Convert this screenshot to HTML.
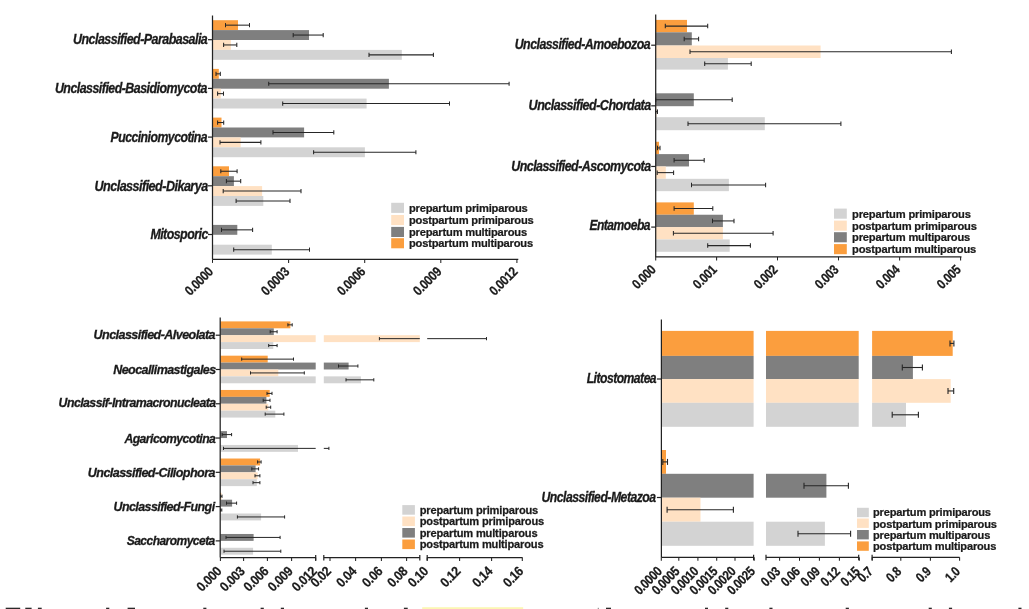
<!DOCTYPE html>
<html><head><meta charset="utf-8"><style>
html,body{margin:0;padding:0;background:#fff;width:1029px;height:609px;overflow:hidden}
svg{display:block;font-family:"Liberation Sans",sans-serif;will-change:transform}
</style></head><body>
<svg width="1029" height="609" viewBox="0 0 1029 609">
<rect x="212.50" y="20.20" width="25.50" height="9.90" fill="#fb9e3e"/>
<rect x="212.50" y="30.10" width="96.50" height="9.90" fill="#7f7f7f"/>
<rect x="212.50" y="40.00" width="18.40" height="9.90" fill="#ffe1c3"/>
<rect x="212.50" y="49.90" width="189.30" height="9.90" fill="#d3d3d3"/>
<line x1="225.50" y1="25.15" x2="249.50" y2="25.15" stroke="#262626" stroke-width="1.05"/>
<line x1="225.50" y1="23.05" x2="225.50" y2="27.25" stroke="#262626" stroke-width="1.05"/>
<line x1="249.50" y1="23.05" x2="249.50" y2="27.25" stroke="#262626" stroke-width="1.05"/>
<line x1="293.20" y1="35.05" x2="323.20" y2="35.05" stroke="#262626" stroke-width="1.05"/>
<line x1="293.20" y1="32.95" x2="293.20" y2="37.15" stroke="#262626" stroke-width="1.05"/>
<line x1="323.20" y1="32.95" x2="323.20" y2="37.15" stroke="#262626" stroke-width="1.05"/>
<line x1="223.60" y1="44.95" x2="236.80" y2="44.95" stroke="#262626" stroke-width="1.05"/>
<line x1="223.60" y1="42.85" x2="223.60" y2="47.05" stroke="#262626" stroke-width="1.05"/>
<line x1="236.80" y1="42.85" x2="236.80" y2="47.05" stroke="#262626" stroke-width="1.05"/>
<line x1="369.00" y1="54.85" x2="433.40" y2="54.85" stroke="#262626" stroke-width="1.05"/>
<line x1="369.00" y1="52.75" x2="369.00" y2="56.95" stroke="#262626" stroke-width="1.05"/>
<line x1="433.40" y1="52.75" x2="433.40" y2="56.95" stroke="#262626" stroke-width="1.05"/>
<line x1="208.00" y1="39.70" x2="212.50" y2="39.70" stroke="#222222" stroke-width="1.2"/>
<rect x="212.50" y="68.90" width="6.30" height="9.90" fill="#fb9e3e"/>
<rect x="212.50" y="78.80" width="176.40" height="9.90" fill="#7f7f7f"/>
<rect x="212.50" y="88.70" width="8.30" height="9.90" fill="#ffe1c3"/>
<rect x="212.50" y="98.60" width="154.10" height="9.90" fill="#d3d3d3"/>
<line x1="216.00" y1="73.85" x2="220.30" y2="73.85" stroke="#262626" stroke-width="1.05"/>
<line x1="216.00" y1="71.75" x2="216.00" y2="75.95" stroke="#262626" stroke-width="1.05"/>
<line x1="220.30" y1="71.75" x2="220.30" y2="75.95" stroke="#262626" stroke-width="1.05"/>
<line x1="268.70" y1="83.75" x2="509.10" y2="83.75" stroke="#262626" stroke-width="1.05"/>
<line x1="268.70" y1="81.65" x2="268.70" y2="85.85" stroke="#262626" stroke-width="1.05"/>
<line x1="509.10" y1="81.65" x2="509.10" y2="85.85" stroke="#262626" stroke-width="1.05"/>
<line x1="217.60" y1="93.65" x2="223.50" y2="93.65" stroke="#262626" stroke-width="1.05"/>
<line x1="217.60" y1="91.55" x2="217.60" y2="95.75" stroke="#262626" stroke-width="1.05"/>
<line x1="223.50" y1="91.55" x2="223.50" y2="95.75" stroke="#262626" stroke-width="1.05"/>
<line x1="282.70" y1="103.55" x2="449.50" y2="103.55" stroke="#262626" stroke-width="1.05"/>
<line x1="282.70" y1="101.45" x2="282.70" y2="105.65" stroke="#262626" stroke-width="1.05"/>
<line x1="449.50" y1="101.45" x2="449.50" y2="105.65" stroke="#262626" stroke-width="1.05"/>
<line x1="208.00" y1="88.40" x2="212.50" y2="88.40" stroke="#222222" stroke-width="1.2"/>
<rect x="212.50" y="117.60" width="9.00" height="9.90" fill="#fb9e3e"/>
<rect x="212.50" y="127.50" width="91.60" height="9.90" fill="#7f7f7f"/>
<rect x="212.50" y="137.40" width="28.20" height="9.90" fill="#ffe1c3"/>
<rect x="212.50" y="147.30" width="152.40" height="9.90" fill="#d3d3d3"/>
<line x1="217.60" y1="122.55" x2="223.70" y2="122.55" stroke="#262626" stroke-width="1.05"/>
<line x1="217.60" y1="120.45" x2="217.60" y2="124.65" stroke="#262626" stroke-width="1.05"/>
<line x1="223.70" y1="120.45" x2="223.70" y2="124.65" stroke="#262626" stroke-width="1.05"/>
<line x1="273.00" y1="132.45" x2="333.80" y2="132.45" stroke="#262626" stroke-width="1.05"/>
<line x1="273.00" y1="130.35" x2="273.00" y2="134.55" stroke="#262626" stroke-width="1.05"/>
<line x1="333.80" y1="130.35" x2="333.80" y2="134.55" stroke="#262626" stroke-width="1.05"/>
<line x1="220.00" y1="142.35" x2="260.90" y2="142.35" stroke="#262626" stroke-width="1.05"/>
<line x1="220.00" y1="140.25" x2="220.00" y2="144.45" stroke="#262626" stroke-width="1.05"/>
<line x1="260.90" y1="140.25" x2="260.90" y2="144.45" stroke="#262626" stroke-width="1.05"/>
<line x1="313.60" y1="152.25" x2="415.90" y2="152.25" stroke="#262626" stroke-width="1.05"/>
<line x1="313.60" y1="150.15" x2="313.60" y2="154.35" stroke="#262626" stroke-width="1.05"/>
<line x1="415.90" y1="150.15" x2="415.90" y2="154.35" stroke="#262626" stroke-width="1.05"/>
<line x1="208.00" y1="137.10" x2="212.50" y2="137.10" stroke="#222222" stroke-width="1.2"/>
<rect x="212.50" y="166.30" width="16.50" height="9.90" fill="#fb9e3e"/>
<rect x="212.50" y="176.20" width="21.40" height="9.90" fill="#7f7f7f"/>
<rect x="212.50" y="186.10" width="49.60" height="9.90" fill="#ffe1c3"/>
<rect x="212.50" y="196.00" width="50.80" height="9.90" fill="#d3d3d3"/>
<line x1="220.80" y1="171.25" x2="237.10" y2="171.25" stroke="#262626" stroke-width="1.05"/>
<line x1="220.80" y1="169.15" x2="220.80" y2="173.35" stroke="#262626" stroke-width="1.05"/>
<line x1="237.10" y1="169.15" x2="237.10" y2="173.35" stroke="#262626" stroke-width="1.05"/>
<line x1="226.40" y1="181.15" x2="240.70" y2="181.15" stroke="#262626" stroke-width="1.05"/>
<line x1="226.40" y1="179.05" x2="226.40" y2="183.25" stroke="#262626" stroke-width="1.05"/>
<line x1="240.70" y1="179.05" x2="240.70" y2="183.25" stroke="#262626" stroke-width="1.05"/>
<line x1="223.20" y1="191.05" x2="301.00" y2="191.05" stroke="#262626" stroke-width="1.05"/>
<line x1="223.20" y1="188.95" x2="223.20" y2="193.15" stroke="#262626" stroke-width="1.05"/>
<line x1="301.00" y1="188.95" x2="301.00" y2="193.15" stroke="#262626" stroke-width="1.05"/>
<line x1="236.10" y1="200.95" x2="290.00" y2="200.95" stroke="#262626" stroke-width="1.05"/>
<line x1="236.10" y1="198.85" x2="236.10" y2="203.05" stroke="#262626" stroke-width="1.05"/>
<line x1="290.00" y1="198.85" x2="290.00" y2="203.05" stroke="#262626" stroke-width="1.05"/>
<line x1="208.00" y1="185.80" x2="212.50" y2="185.80" stroke="#222222" stroke-width="1.2"/>
<rect x="212.50" y="224.90" width="24.80" height="9.90" fill="#7f7f7f"/>
<rect x="212.50" y="244.70" width="59.30" height="9.90" fill="#d3d3d3"/>
<line x1="221.50" y1="229.85" x2="252.60" y2="229.85" stroke="#262626" stroke-width="1.05"/>
<line x1="221.50" y1="227.75" x2="221.50" y2="231.95" stroke="#262626" stroke-width="1.05"/>
<line x1="252.60" y1="227.75" x2="252.60" y2="231.95" stroke="#262626" stroke-width="1.05"/>
<line x1="233.70" y1="249.65" x2="309.50" y2="249.65" stroke="#262626" stroke-width="1.05"/>
<line x1="233.70" y1="247.55" x2="233.70" y2="251.75" stroke="#262626" stroke-width="1.05"/>
<line x1="309.50" y1="247.55" x2="309.50" y2="251.75" stroke="#262626" stroke-width="1.05"/>
<line x1="208.00" y1="234.50" x2="212.50" y2="234.50" stroke="#222222" stroke-width="1.2"/>
<line x1="212.50" y1="15.50" x2="212.50" y2="259.40" stroke="#222222" stroke-width="1.25"/>
<line x1="212.50" y1="259.40" x2="518.30" y2="259.40" stroke="#222222" stroke-width="1.25"/>
<line x1="212.50" y1="259.40" x2="212.50" y2="262.90" stroke="#222222" stroke-width="1.05"/>
<line x1="288.60" y1="259.40" x2="288.60" y2="262.90" stroke="#222222" stroke-width="1.05"/>
<line x1="364.70" y1="259.40" x2="364.70" y2="262.90" stroke="#222222" stroke-width="1.05"/>
<line x1="440.80" y1="259.40" x2="440.80" y2="262.90" stroke="#222222" stroke-width="1.05"/>
<line x1="516.90" y1="259.40" x2="516.90" y2="262.90" stroke="#222222" stroke-width="1.05"/>
<rect x="391.20" y="202.80" width="12.80" height="10.10" fill="#d3d3d3"/>
<rect x="391.20" y="215.00" width="12.80" height="10.10" fill="#ffe1c3"/>
<rect x="391.20" y="226.90" width="12.80" height="10.10" fill="#7f7f7f"/>
<rect x="391.20" y="238.20" width="12.80" height="10.10" fill="#fb9e3e"/>
<rect x="655.70" y="19.90" width="31.30" height="12.40" fill="#fb9e3e"/>
<rect x="655.70" y="32.30" width="36.10" height="13.20" fill="#7f7f7f"/>
<rect x="655.70" y="45.50" width="164.90" height="12.50" fill="#ffe1c3"/>
<rect x="655.70" y="58.00" width="72.20" height="11.60" fill="#d3d3d3"/>
<line x1="665.30" y1="26.10" x2="707.70" y2="26.10" stroke="#262626" stroke-width="1.05"/>
<line x1="665.30" y1="23.85" x2="665.30" y2="28.35" stroke="#262626" stroke-width="1.05"/>
<line x1="707.70" y1="23.85" x2="707.70" y2="28.35" stroke="#262626" stroke-width="1.05"/>
<line x1="684.20" y1="38.90" x2="698.60" y2="38.90" stroke="#262626" stroke-width="1.05"/>
<line x1="684.20" y1="36.65" x2="684.20" y2="41.15" stroke="#262626" stroke-width="1.05"/>
<line x1="698.60" y1="36.65" x2="698.60" y2="41.15" stroke="#262626" stroke-width="1.05"/>
<line x1="690.00" y1="51.75" x2="951.40" y2="51.75" stroke="#262626" stroke-width="1.05"/>
<line x1="690.00" y1="49.50" x2="690.00" y2="54.00" stroke="#262626" stroke-width="1.05"/>
<line x1="951.40" y1="49.50" x2="951.40" y2="54.00" stroke="#262626" stroke-width="1.05"/>
<line x1="704.70" y1="63.80" x2="751.20" y2="63.80" stroke="#262626" stroke-width="1.05"/>
<line x1="704.70" y1="61.55" x2="704.70" y2="66.05" stroke="#262626" stroke-width="1.05"/>
<line x1="751.20" y1="61.55" x2="751.20" y2="66.05" stroke="#262626" stroke-width="1.05"/>
<line x1="651.20" y1="45.20" x2="655.70" y2="45.20" stroke="#222222" stroke-width="1.2"/>
<rect x="655.70" y="93.30" width="38.10" height="12.90" fill="#7f7f7f"/>
<rect x="655.70" y="106.20" width="0.80" height="11.00" fill="#ffe1c3"/>
<rect x="655.70" y="117.20" width="109.10" height="13.00" fill="#d3d3d3"/>
<line x1="655.70" y1="99.75" x2="732.20" y2="99.75" stroke="#262626" stroke-width="1.05"/>
<line x1="655.70" y1="97.50" x2="655.70" y2="102.00" stroke="#262626" stroke-width="1.05"/>
<line x1="732.20" y1="97.50" x2="732.20" y2="102.00" stroke="#262626" stroke-width="1.05"/>
<line x1="655.70" y1="111.70" x2="657.50" y2="111.70" stroke="#262626" stroke-width="1.05"/>
<line x1="655.70" y1="109.45" x2="655.70" y2="113.95" stroke="#262626" stroke-width="1.05"/>
<line x1="657.50" y1="109.45" x2="657.50" y2="113.95" stroke="#262626" stroke-width="1.05"/>
<line x1="688.00" y1="123.70" x2="840.90" y2="123.70" stroke="#262626" stroke-width="1.05"/>
<line x1="688.00" y1="121.45" x2="688.00" y2="125.95" stroke="#262626" stroke-width="1.05"/>
<line x1="840.90" y1="121.45" x2="840.90" y2="125.95" stroke="#262626" stroke-width="1.05"/>
<line x1="651.20" y1="105.83" x2="655.70" y2="105.83" stroke="#222222" stroke-width="1.2"/>
<rect x="655.70" y="141.76" width="3.30" height="12.35" fill="#fb9e3e"/>
<rect x="655.70" y="154.11" width="33.30" height="12.35" fill="#7f7f7f"/>
<rect x="655.70" y="166.46" width="10.10" height="12.35" fill="#ffe1c3"/>
<rect x="655.70" y="178.81" width="73.20" height="12.35" fill="#d3d3d3"/>
<line x1="657.50" y1="147.94" x2="660.00" y2="147.94" stroke="#262626" stroke-width="1.05"/>
<line x1="657.50" y1="145.69" x2="657.50" y2="150.19" stroke="#262626" stroke-width="1.05"/>
<line x1="660.00" y1="145.69" x2="660.00" y2="150.19" stroke="#262626" stroke-width="1.05"/>
<line x1="674.10" y1="160.28" x2="704.20" y2="160.28" stroke="#262626" stroke-width="1.05"/>
<line x1="674.10" y1="158.03" x2="674.10" y2="162.53" stroke="#262626" stroke-width="1.05"/>
<line x1="704.20" y1="158.03" x2="704.20" y2="162.53" stroke="#262626" stroke-width="1.05"/>
<line x1="657.20" y1="172.63" x2="673.60" y2="172.63" stroke="#262626" stroke-width="1.05"/>
<line x1="657.20" y1="170.38" x2="657.20" y2="174.88" stroke="#262626" stroke-width="1.05"/>
<line x1="673.60" y1="170.38" x2="673.60" y2="174.88" stroke="#262626" stroke-width="1.05"/>
<line x1="691.50" y1="184.99" x2="765.60" y2="184.99" stroke="#262626" stroke-width="1.05"/>
<line x1="691.50" y1="182.74" x2="691.50" y2="187.24" stroke="#262626" stroke-width="1.05"/>
<line x1="765.60" y1="182.74" x2="765.60" y2="187.24" stroke="#262626" stroke-width="1.05"/>
<line x1="651.20" y1="166.46" x2="655.70" y2="166.46" stroke="#222222" stroke-width="1.2"/>
<rect x="655.70" y="202.39" width="38.10" height="12.35" fill="#fb9e3e"/>
<rect x="655.70" y="214.74" width="67.20" height="12.35" fill="#7f7f7f"/>
<rect x="655.70" y="227.09" width="67.20" height="12.35" fill="#ffe1c3"/>
<rect x="655.70" y="239.44" width="74.00" height="12.35" fill="#d3d3d3"/>
<line x1="674.10" y1="208.56" x2="712.80" y2="208.56" stroke="#262626" stroke-width="1.05"/>
<line x1="674.10" y1="206.31" x2="674.10" y2="210.81" stroke="#262626" stroke-width="1.05"/>
<line x1="712.80" y1="206.31" x2="712.80" y2="210.81" stroke="#262626" stroke-width="1.05"/>
<line x1="712.50" y1="220.92" x2="734.00" y2="220.92" stroke="#262626" stroke-width="1.05"/>
<line x1="712.50" y1="218.67" x2="712.50" y2="223.17" stroke="#262626" stroke-width="1.05"/>
<line x1="734.00" y1="218.67" x2="734.00" y2="223.17" stroke="#262626" stroke-width="1.05"/>
<line x1="673.40" y1="233.26" x2="773.10" y2="233.26" stroke="#262626" stroke-width="1.05"/>
<line x1="673.40" y1="231.01" x2="673.40" y2="235.51" stroke="#262626" stroke-width="1.05"/>
<line x1="773.10" y1="231.01" x2="773.10" y2="235.51" stroke="#262626" stroke-width="1.05"/>
<line x1="707.70" y1="245.62" x2="750.40" y2="245.62" stroke="#262626" stroke-width="1.05"/>
<line x1="707.70" y1="243.37" x2="707.70" y2="247.87" stroke="#262626" stroke-width="1.05"/>
<line x1="750.40" y1="243.37" x2="750.40" y2="247.87" stroke="#262626" stroke-width="1.05"/>
<line x1="651.20" y1="227.09" x2="655.70" y2="227.09" stroke="#222222" stroke-width="1.2"/>
<line x1="655.70" y1="14.50" x2="655.70" y2="256.90" stroke="#222222" stroke-width="1.25"/>
<line x1="655.70" y1="256.90" x2="961.50" y2="256.90" stroke="#222222" stroke-width="1.25"/>
<line x1="655.70" y1="256.90" x2="655.70" y2="260.40" stroke="#222222" stroke-width="1.05"/>
<line x1="716.60" y1="256.90" x2="716.60" y2="260.40" stroke="#222222" stroke-width="1.05"/>
<line x1="777.50" y1="256.90" x2="777.50" y2="260.40" stroke="#222222" stroke-width="1.05"/>
<line x1="838.50" y1="256.90" x2="838.50" y2="260.40" stroke="#222222" stroke-width="1.05"/>
<line x1="899.60" y1="256.90" x2="899.60" y2="260.40" stroke="#222222" stroke-width="1.05"/>
<line x1="960.60" y1="256.90" x2="960.60" y2="260.40" stroke="#222222" stroke-width="1.05"/>
<rect x="834.00" y="208.60" width="12.80" height="10.10" fill="#d3d3d3"/>
<rect x="834.00" y="220.60" width="12.80" height="10.10" fill="#ffe1c3"/>
<rect x="834.00" y="232.20" width="12.80" height="10.10" fill="#7f7f7f"/>
<rect x="834.00" y="244.10" width="12.80" height="10.10" fill="#fb9e3e"/>
<rect x="220.20" y="321.40" width="70.20" height="6.90" fill="#fb9e3e"/>
<rect x="220.20" y="328.30" width="53.60" height="6.90" fill="#7f7f7f"/>
<rect x="220.20" y="335.20" width="95.50" height="6.90" fill="#ffe1c3"/>
<rect x="323.80" y="335.20" width="96.00" height="6.90" fill="#ffe1c3"/>
<rect x="220.20" y="342.10" width="53.10" height="6.90" fill="#d3d3d3"/>
<line x1="287.90" y1="324.85" x2="292.20" y2="324.85" stroke="#262626" stroke-width="1.0"/>
<line x1="287.90" y1="323.25" x2="287.90" y2="326.45" stroke="#262626" stroke-width="1.0"/>
<line x1="292.20" y1="323.25" x2="292.20" y2="326.45" stroke="#262626" stroke-width="1.0"/>
<line x1="270.20" y1="331.75" x2="277.10" y2="331.75" stroke="#262626" stroke-width="1.0"/>
<line x1="270.20" y1="330.15" x2="270.20" y2="333.35" stroke="#262626" stroke-width="1.0"/>
<line x1="277.10" y1="330.15" x2="277.10" y2="333.35" stroke="#262626" stroke-width="1.0"/>
<line x1="379.40" y1="338.65" x2="419.80" y2="338.65" stroke="#262626" stroke-width="1.0"/>
<line x1="427.20" y1="338.65" x2="486.50" y2="338.65" stroke="#262626" stroke-width="1.0"/>
<line x1="379.40" y1="337.05" x2="379.40" y2="340.25" stroke="#262626" stroke-width="1.0"/>
<line x1="486.50" y1="337.05" x2="486.50" y2="340.25" stroke="#262626" stroke-width="1.0"/>
<line x1="268.70" y1="345.55" x2="277.10" y2="345.55" stroke="#262626" stroke-width="1.0"/>
<line x1="268.70" y1="343.95" x2="268.70" y2="347.15" stroke="#262626" stroke-width="1.0"/>
<line x1="277.10" y1="343.95" x2="277.10" y2="347.15" stroke="#262626" stroke-width="1.0"/>
<line x1="215.70" y1="335.20" x2="220.20" y2="335.20" stroke="#222222" stroke-width="1.2"/>
<rect x="220.20" y="355.68" width="47.50" height="6.90" fill="#fb9e3e"/>
<rect x="220.20" y="362.58" width="95.50" height="6.90" fill="#7f7f7f"/>
<rect x="323.80" y="362.58" width="24.80" height="6.90" fill="#7f7f7f"/>
<rect x="220.20" y="369.48" width="58.10" height="6.90" fill="#ffe1c3"/>
<rect x="220.20" y="376.38" width="95.50" height="6.90" fill="#d3d3d3"/>
<rect x="323.80" y="376.38" width="37.10" height="6.90" fill="#d3d3d3"/>
<line x1="241.70" y1="359.13" x2="293.50" y2="359.13" stroke="#262626" stroke-width="1.0"/>
<line x1="241.70" y1="357.53" x2="241.70" y2="360.73" stroke="#262626" stroke-width="1.0"/>
<line x1="293.50" y1="357.53" x2="293.50" y2="360.73" stroke="#262626" stroke-width="1.0"/>
<line x1="338.50" y1="366.03" x2="357.90" y2="366.03" stroke="#262626" stroke-width="1.0"/>
<line x1="338.50" y1="364.43" x2="338.50" y2="367.63" stroke="#262626" stroke-width="1.0"/>
<line x1="357.90" y1="364.43" x2="357.90" y2="367.63" stroke="#262626" stroke-width="1.0"/>
<line x1="250.50" y1="372.93" x2="304.30" y2="372.93" stroke="#262626" stroke-width="1.0"/>
<line x1="250.50" y1="371.33" x2="250.50" y2="374.53" stroke="#262626" stroke-width="1.0"/>
<line x1="304.30" y1="371.33" x2="304.30" y2="374.53" stroke="#262626" stroke-width="1.0"/>
<line x1="346.00" y1="379.83" x2="373.80" y2="379.83" stroke="#262626" stroke-width="1.0"/>
<line x1="346.00" y1="378.23" x2="346.00" y2="381.43" stroke="#262626" stroke-width="1.0"/>
<line x1="373.80" y1="378.23" x2="373.80" y2="381.43" stroke="#262626" stroke-width="1.0"/>
<line x1="215.70" y1="369.48" x2="220.20" y2="369.48" stroke="#222222" stroke-width="1.2"/>
<rect x="220.20" y="389.96" width="49.50" height="6.90" fill="#fb9e3e"/>
<rect x="220.20" y="396.86" width="46.20" height="6.90" fill="#7f7f7f"/>
<rect x="220.20" y="403.76" width="48.00" height="6.90" fill="#ffe1c3"/>
<rect x="220.20" y="410.66" width="55.10" height="6.90" fill="#d3d3d3"/>
<line x1="267.00" y1="393.41" x2="272.00" y2="393.41" stroke="#262626" stroke-width="1.0"/>
<line x1="267.00" y1="391.81" x2="267.00" y2="395.01" stroke="#262626" stroke-width="1.0"/>
<line x1="272.00" y1="391.81" x2="272.00" y2="395.01" stroke="#262626" stroke-width="1.0"/>
<line x1="263.20" y1="400.31" x2="270.00" y2="400.31" stroke="#262626" stroke-width="1.0"/>
<line x1="263.20" y1="398.71" x2="263.20" y2="401.91" stroke="#262626" stroke-width="1.0"/>
<line x1="270.00" y1="398.71" x2="270.00" y2="401.91" stroke="#262626" stroke-width="1.0"/>
<line x1="266.20" y1="407.21" x2="270.70" y2="407.21" stroke="#262626" stroke-width="1.0"/>
<line x1="266.20" y1="405.61" x2="266.20" y2="408.81" stroke="#262626" stroke-width="1.0"/>
<line x1="270.70" y1="405.61" x2="270.70" y2="408.81" stroke="#262626" stroke-width="1.0"/>
<line x1="265.20" y1="414.11" x2="283.90" y2="414.11" stroke="#262626" stroke-width="1.0"/>
<line x1="265.20" y1="412.51" x2="265.20" y2="415.71" stroke="#262626" stroke-width="1.0"/>
<line x1="283.90" y1="412.51" x2="283.90" y2="415.71" stroke="#262626" stroke-width="1.0"/>
<line x1="215.70" y1="403.76" x2="220.20" y2="403.76" stroke="#222222" stroke-width="1.2"/>
<rect x="220.20" y="431.14" width="6.80" height="6.90" fill="#7f7f7f"/>
<rect x="220.20" y="444.94" width="77.80" height="6.90" fill="#d3d3d3"/>
<line x1="222.20" y1="434.59" x2="231.60" y2="434.59" stroke="#262626" stroke-width="1.0"/>
<line x1="222.20" y1="432.99" x2="222.20" y2="436.19" stroke="#262626" stroke-width="1.0"/>
<line x1="231.60" y1="432.99" x2="231.60" y2="436.19" stroke="#262626" stroke-width="1.0"/>
<line x1="223.50" y1="448.39" x2="315.70" y2="448.39" stroke="#262626" stroke-width="1.0"/>
<line x1="323.80" y1="448.39" x2="328.90" y2="448.39" stroke="#262626" stroke-width="1.0"/>
<line x1="223.50" y1="446.79" x2="223.50" y2="449.99" stroke="#262626" stroke-width="1.0"/>
<line x1="328.90" y1="446.79" x2="328.90" y2="449.99" stroke="#262626" stroke-width="1.0"/>
<line x1="215.70" y1="438.04" x2="220.20" y2="438.04" stroke="#222222" stroke-width="1.2"/>
<rect x="220.20" y="458.52" width="39.90" height="6.90" fill="#fb9e3e"/>
<rect x="220.20" y="465.42" width="35.40" height="6.90" fill="#7f7f7f"/>
<rect x="220.20" y="472.32" width="37.40" height="6.90" fill="#ffe1c3"/>
<rect x="220.20" y="479.22" width="36.60" height="6.90" fill="#d3d3d3"/>
<line x1="257.60" y1="461.97" x2="261.10" y2="461.97" stroke="#262626" stroke-width="1.0"/>
<line x1="257.60" y1="460.37" x2="257.60" y2="463.57" stroke="#262626" stroke-width="1.0"/>
<line x1="261.10" y1="460.37" x2="261.10" y2="463.57" stroke="#262626" stroke-width="1.0"/>
<line x1="251.80" y1="468.87" x2="258.60" y2="468.87" stroke="#262626" stroke-width="1.0"/>
<line x1="251.80" y1="467.27" x2="251.80" y2="470.47" stroke="#262626" stroke-width="1.0"/>
<line x1="258.60" y1="467.27" x2="258.60" y2="470.47" stroke="#262626" stroke-width="1.0"/>
<line x1="255.00" y1="475.77" x2="259.90" y2="475.77" stroke="#262626" stroke-width="1.0"/>
<line x1="255.00" y1="474.17" x2="255.00" y2="477.37" stroke="#262626" stroke-width="1.0"/>
<line x1="259.90" y1="474.17" x2="259.90" y2="477.37" stroke="#262626" stroke-width="1.0"/>
<line x1="253.00" y1="482.67" x2="259.90" y2="482.67" stroke="#262626" stroke-width="1.0"/>
<line x1="253.00" y1="481.07" x2="253.00" y2="484.27" stroke="#262626" stroke-width="1.0"/>
<line x1="259.90" y1="481.07" x2="259.90" y2="484.27" stroke="#262626" stroke-width="1.0"/>
<line x1="215.70" y1="472.32" x2="220.20" y2="472.32" stroke="#222222" stroke-width="1.2"/>
<rect x="220.20" y="492.80" width="1.00" height="6.90" fill="#fb9e3e"/>
<rect x="220.20" y="499.70" width="11.90" height="6.90" fill="#7f7f7f"/>
<rect x="220.20" y="506.60" width="0.80" height="6.90" fill="#ffe1c3"/>
<rect x="220.20" y="513.50" width="40.90" height="6.90" fill="#d3d3d3"/>
<line x1="220.50" y1="496.25" x2="222.00" y2="496.25" stroke="#262626" stroke-width="1.0"/>
<line x1="220.50" y1="494.65" x2="220.50" y2="497.85" stroke="#262626" stroke-width="1.0"/>
<line x1="222.00" y1="494.65" x2="222.00" y2="497.85" stroke="#262626" stroke-width="1.0"/>
<line x1="226.50" y1="503.15" x2="236.60" y2="503.15" stroke="#262626" stroke-width="1.0"/>
<line x1="226.50" y1="501.55" x2="226.50" y2="504.75" stroke="#262626" stroke-width="1.0"/>
<line x1="236.60" y1="501.55" x2="236.60" y2="504.75" stroke="#262626" stroke-width="1.0"/>
<line x1="220.50" y1="510.05" x2="221.80" y2="510.05" stroke="#262626" stroke-width="1.0"/>
<line x1="220.50" y1="508.45" x2="220.50" y2="511.65" stroke="#262626" stroke-width="1.0"/>
<line x1="221.80" y1="508.45" x2="221.80" y2="511.65" stroke="#262626" stroke-width="1.0"/>
<line x1="237.40" y1="516.95" x2="284.60" y2="516.95" stroke="#262626" stroke-width="1.0"/>
<line x1="237.40" y1="515.35" x2="237.40" y2="518.55" stroke="#262626" stroke-width="1.0"/>
<line x1="284.60" y1="515.35" x2="284.60" y2="518.55" stroke="#262626" stroke-width="1.0"/>
<line x1="215.70" y1="506.60" x2="220.20" y2="506.60" stroke="#222222" stroke-width="1.2"/>
<rect x="220.20" y="533.98" width="33.40" height="6.90" fill="#7f7f7f"/>
<rect x="220.20" y="547.78" width="32.90" height="6.90" fill="#d3d3d3"/>
<line x1="226.00" y1="537.43" x2="280.10" y2="537.43" stroke="#262626" stroke-width="1.0"/>
<line x1="226.00" y1="535.83" x2="226.00" y2="539.03" stroke="#262626" stroke-width="1.0"/>
<line x1="280.10" y1="535.83" x2="280.10" y2="539.03" stroke="#262626" stroke-width="1.0"/>
<line x1="224.00" y1="551.23" x2="280.80" y2="551.23" stroke="#262626" stroke-width="1.0"/>
<line x1="224.00" y1="549.63" x2="224.00" y2="552.83" stroke="#262626" stroke-width="1.0"/>
<line x1="280.80" y1="549.63" x2="280.80" y2="552.83" stroke="#262626" stroke-width="1.0"/>
<line x1="215.70" y1="540.88" x2="220.20" y2="540.88" stroke="#222222" stroke-width="1.2"/>
<line x1="220.20" y1="317.60" x2="220.20" y2="557.50" stroke="#222222" stroke-width="1.25"/>
<line x1="220.20" y1="557.50" x2="315.70" y2="557.50" stroke="#222222" stroke-width="1.25"/>
<line x1="315.70" y1="555.00" x2="315.70" y2="560.50" stroke="#222222" stroke-width="1.2"/>
<line x1="323.80" y1="557.50" x2="419.80" y2="557.50" stroke="#222222" stroke-width="1.25"/>
<line x1="323.80" y1="555.00" x2="323.80" y2="560.50" stroke="#222222" stroke-width="1.2"/>
<line x1="419.80" y1="555.00" x2="419.80" y2="560.50" stroke="#222222" stroke-width="1.2"/>
<line x1="427.20" y1="557.50" x2="522.50" y2="557.50" stroke="#222222" stroke-width="1.25"/>
<line x1="427.20" y1="555.00" x2="427.20" y2="560.50" stroke="#222222" stroke-width="1.2"/>
<line x1="220.40" y1="557.50" x2="220.40" y2="561.00" stroke="#222222" stroke-width="1.05"/>
<line x1="243.60" y1="557.50" x2="243.60" y2="561.00" stroke="#222222" stroke-width="1.05"/>
<line x1="267.40" y1="557.50" x2="267.40" y2="561.00" stroke="#222222" stroke-width="1.05"/>
<line x1="291.60" y1="557.50" x2="291.60" y2="561.00" stroke="#222222" stroke-width="1.05"/>
<line x1="315.70" y1="557.50" x2="315.70" y2="561.00" stroke="#222222" stroke-width="1.05"/>
<line x1="330.00" y1="557.50" x2="330.00" y2="561.00" stroke="#222222" stroke-width="1.05"/>
<line x1="355.60" y1="557.50" x2="355.60" y2="561.00" stroke="#222222" stroke-width="1.05"/>
<line x1="381.40" y1="557.50" x2="381.40" y2="561.00" stroke="#222222" stroke-width="1.05"/>
<line x1="406.60" y1="557.50" x2="406.60" y2="561.00" stroke="#222222" stroke-width="1.05"/>
<line x1="427.20" y1="557.50" x2="427.20" y2="561.00" stroke="#222222" stroke-width="1.05"/>
<line x1="459.60" y1="557.50" x2="459.60" y2="561.00" stroke="#222222" stroke-width="1.05"/>
<line x1="491.60" y1="557.50" x2="491.60" y2="561.00" stroke="#222222" stroke-width="1.05"/>
<line x1="522.30" y1="557.50" x2="522.30" y2="561.00" stroke="#222222" stroke-width="1.05"/>
<rect x="402.30" y="505.10" width="12.60" height="9.60" fill="#d3d3d3"/>
<rect x="402.30" y="516.50" width="12.60" height="9.60" fill="#ffe1c3"/>
<rect x="402.30" y="528.00" width="12.60" height="9.60" fill="#7f7f7f"/>
<rect x="402.30" y="539.50" width="12.60" height="9.60" fill="#fb9e3e"/>
<rect x="661.40" y="330.90" width="92.20" height="25.00" fill="#fb9e3e"/>
<rect x="766.00" y="330.90" width="92.70" height="25.00" fill="#fb9e3e"/>
<rect x="872.10" y="330.90" width="80.60" height="25.00" fill="#fb9e3e"/>
<rect x="661.40" y="355.90" width="92.20" height="23.20" fill="#7f7f7f"/>
<rect x="766.00" y="355.90" width="92.70" height="23.20" fill="#7f7f7f"/>
<rect x="872.10" y="355.90" width="40.80" height="23.20" fill="#7f7f7f"/>
<rect x="661.40" y="379.10" width="92.20" height="23.70" fill="#ffe1c3"/>
<rect x="766.00" y="379.10" width="92.70" height="23.70" fill="#ffe1c3"/>
<rect x="872.10" y="379.10" width="78.60" height="23.70" fill="#ffe1c3"/>
<rect x="661.40" y="402.80" width="92.20" height="24.00" fill="#d3d3d3"/>
<rect x="766.00" y="402.80" width="92.70" height="24.00" fill="#d3d3d3"/>
<rect x="872.10" y="402.80" width="33.90" height="24.00" fill="#d3d3d3"/>
<line x1="950.00" y1="343.40" x2="953.90" y2="343.40" stroke="#262626" stroke-width="1.1"/>
<line x1="950.00" y1="340.40" x2="950.00" y2="346.40" stroke="#262626" stroke-width="1.1"/>
<line x1="953.90" y1="340.40" x2="953.90" y2="346.40" stroke="#262626" stroke-width="1.1"/>
<line x1="902.30" y1="367.50" x2="922.40" y2="367.50" stroke="#262626" stroke-width="1.1"/>
<line x1="902.30" y1="364.50" x2="902.30" y2="370.50" stroke="#262626" stroke-width="1.1"/>
<line x1="922.40" y1="364.50" x2="922.40" y2="370.50" stroke="#262626" stroke-width="1.1"/>
<line x1="948.00" y1="390.95" x2="953.70" y2="390.95" stroke="#262626" stroke-width="1.1"/>
<line x1="948.00" y1="387.95" x2="948.00" y2="393.95" stroke="#262626" stroke-width="1.1"/>
<line x1="953.70" y1="387.95" x2="953.70" y2="393.95" stroke="#262626" stroke-width="1.1"/>
<line x1="892.20" y1="414.80" x2="918.40" y2="414.80" stroke="#262626" stroke-width="1.1"/>
<line x1="892.20" y1="411.80" x2="892.20" y2="417.80" stroke="#262626" stroke-width="1.1"/>
<line x1="918.40" y1="411.80" x2="918.40" y2="417.80" stroke="#262626" stroke-width="1.1"/>
<line x1="656.90" y1="379.00" x2="661.40" y2="379.00" stroke="#222222" stroke-width="1.2"/>
<rect x="661.40" y="450.00" width="4.60" height="23.80" fill="#fb9e3e"/>
<rect x="661.40" y="473.80" width="92.20" height="23.90" fill="#7f7f7f"/>
<rect x="766.00" y="473.80" width="60.40" height="23.90" fill="#7f7f7f"/>
<rect x="661.40" y="497.70" width="39.10" height="24.00" fill="#ffe1c3"/>
<rect x="661.40" y="521.70" width="92.20" height="24.10" fill="#d3d3d3"/>
<rect x="766.00" y="521.70" width="58.90" height="24.10" fill="#d3d3d3"/>
<line x1="662.80" y1="461.90" x2="667.50" y2="461.90" stroke="#262626" stroke-width="1.1"/>
<line x1="662.80" y1="458.90" x2="662.80" y2="464.90" stroke="#262626" stroke-width="1.1"/>
<line x1="667.50" y1="458.90" x2="667.50" y2="464.90" stroke="#262626" stroke-width="1.1"/>
<line x1="804.00" y1="485.75" x2="848.40" y2="485.75" stroke="#262626" stroke-width="1.1"/>
<line x1="804.00" y1="482.75" x2="804.00" y2="488.75" stroke="#262626" stroke-width="1.1"/>
<line x1="848.40" y1="482.75" x2="848.40" y2="488.75" stroke="#262626" stroke-width="1.1"/>
<line x1="667.10" y1="509.70" x2="733.40" y2="509.70" stroke="#262626" stroke-width="1.1"/>
<line x1="667.10" y1="506.70" x2="667.10" y2="512.70" stroke="#262626" stroke-width="1.1"/>
<line x1="733.40" y1="506.70" x2="733.40" y2="512.70" stroke="#262626" stroke-width="1.1"/>
<line x1="798.00" y1="533.75" x2="850.60" y2="533.75" stroke="#262626" stroke-width="1.1"/>
<line x1="798.00" y1="530.75" x2="798.00" y2="536.75" stroke="#262626" stroke-width="1.1"/>
<line x1="850.60" y1="530.75" x2="850.60" y2="536.75" stroke="#262626" stroke-width="1.1"/>
<line x1="656.90" y1="497.50" x2="661.40" y2="497.50" stroke="#222222" stroke-width="1.2"/>
<line x1="661.40" y1="319.50" x2="661.40" y2="557.30" stroke="#222222" stroke-width="1.25"/>
<line x1="661.40" y1="557.30" x2="753.60" y2="557.30" stroke="#222222" stroke-width="1.25"/>
<line x1="753.60" y1="554.80" x2="753.60" y2="560.30" stroke="#222222" stroke-width="1.2"/>
<line x1="766.00" y1="557.30" x2="858.70" y2="557.30" stroke="#222222" stroke-width="1.25"/>
<line x1="766.00" y1="554.80" x2="766.00" y2="560.30" stroke="#222222" stroke-width="1.2"/>
<line x1="858.70" y1="554.80" x2="858.70" y2="560.30" stroke="#222222" stroke-width="1.2"/>
<line x1="872.10" y1="557.30" x2="959.60" y2="557.30" stroke="#222222" stroke-width="1.25"/>
<line x1="872.10" y1="554.80" x2="872.10" y2="560.30" stroke="#222222" stroke-width="1.2"/>
<line x1="661.30" y1="557.30" x2="661.30" y2="560.80" stroke="#222222" stroke-width="1.05"/>
<line x1="678.80" y1="557.30" x2="678.80" y2="560.80" stroke="#222222" stroke-width="1.05"/>
<line x1="697.90" y1="557.30" x2="697.90" y2="560.80" stroke="#222222" stroke-width="1.05"/>
<line x1="716.70" y1="557.30" x2="716.70" y2="560.80" stroke="#222222" stroke-width="1.05"/>
<line x1="735.00" y1="557.30" x2="735.00" y2="560.80" stroke="#222222" stroke-width="1.05"/>
<line x1="754.20" y1="557.30" x2="754.20" y2="560.80" stroke="#222222" stroke-width="1.05"/>
<line x1="779.60" y1="557.30" x2="779.60" y2="560.80" stroke="#222222" stroke-width="1.05"/>
<line x1="799.50" y1="557.30" x2="799.50" y2="560.80" stroke="#222222" stroke-width="1.05"/>
<line x1="819.40" y1="557.30" x2="819.40" y2="560.80" stroke="#222222" stroke-width="1.05"/>
<line x1="839.40" y1="557.30" x2="839.40" y2="560.80" stroke="#222222" stroke-width="1.05"/>
<line x1="859.30" y1="557.30" x2="859.30" y2="560.80" stroke="#222222" stroke-width="1.05"/>
<line x1="872.20" y1="557.30" x2="872.20" y2="560.80" stroke="#222222" stroke-width="1.05"/>
<line x1="900.80" y1="557.30" x2="900.80" y2="560.80" stroke="#222222" stroke-width="1.05"/>
<line x1="930.40" y1="557.30" x2="930.40" y2="560.80" stroke="#222222" stroke-width="1.05"/>
<line x1="959.60" y1="557.30" x2="959.60" y2="560.80" stroke="#222222" stroke-width="1.05"/>
<rect x="857.00" y="507.80" width="11.80" height="9.40" fill="#d3d3d3"/>
<rect x="857.00" y="518.50" width="11.80" height="9.40" fill="#ffe1c3"/>
<rect x="857.00" y="530.00" width="11.80" height="9.40" fill="#7f7f7f"/>
<rect x="857.00" y="541.40" width="11.80" height="9.40" fill="#fb9e3e"/>
<text transform="translate(73.06,44.10) scale(0.8923,1)" text-anchor="start" font-size="14" font-style="italic" font-weight="bold" fill="#1a1a1a" letter-spacing="-0.6" stroke="#1a1a1a" stroke-width="0.3">Unclassified-Parabasalia</text>
<text transform="translate(54.91,93.00) scale(0.8889,1)" text-anchor="start" font-size="14" font-style="italic" font-weight="bold" fill="#1a1a1a" letter-spacing="-0.6" stroke="#1a1a1a" stroke-width="0.3">Unclassified-Basidiomycota</text>
<text transform="translate(110.50,141.50) scale(0.8784,1)" text-anchor="start" font-size="14" font-style="italic" font-weight="bold" fill="#1a1a1a" letter-spacing="-0.6" stroke="#1a1a1a" stroke-width="0.3">Pucciniomycotina</text>
<text transform="translate(94.50,191.00) scale(0.9008,1)" text-anchor="start" font-size="14" font-style="italic" font-weight="bold" fill="#1a1a1a" letter-spacing="-0.6" stroke="#1a1a1a" stroke-width="0.3">Unclassified-Dikarya</text>
<text transform="translate(150.40,239.00) scale(0.8862,1)" text-anchor="start" font-size="14" font-style="italic" font-weight="bold" fill="#1a1a1a" letter-spacing="-0.6" stroke="#1a1a1a" stroke-width="0.3">Mitosporic</text>
<text transform="translate(214.00,272.60) rotate(-45) scale(0.8600,1) translate(-39.00,0)" text-anchor="start" font-size="13.5" font-style="normal" font-weight="bold" fill="#1a1a1a" letter-spacing="-0.4" stroke="#1a1a1a" stroke-width="0.25">0.0000</text>
<text transform="translate(290.10,272.60) rotate(-45) scale(0.8600,1) translate(-39.00,0)" text-anchor="start" font-size="13.5" font-style="normal" font-weight="bold" fill="#1a1a1a" letter-spacing="-0.4" stroke="#1a1a1a" stroke-width="0.25">0.0003</text>
<text transform="translate(366.20,272.60) rotate(-45) scale(0.8600,1) translate(-39.00,0)" text-anchor="start" font-size="13.5" font-style="normal" font-weight="bold" fill="#1a1a1a" letter-spacing="-0.4" stroke="#1a1a1a" stroke-width="0.25">0.0006</text>
<text transform="translate(442.30,272.60) rotate(-45) scale(0.8600,1) translate(-39.00,0)" text-anchor="start" font-size="13.5" font-style="normal" font-weight="bold" fill="#1a1a1a" letter-spacing="-0.4" stroke="#1a1a1a" stroke-width="0.25">0.0009</text>
<text transform="translate(518.40,272.60) rotate(-45) scale(0.8600,1) translate(-39.00,0)" text-anchor="start" font-size="13.5" font-style="normal" font-weight="bold" fill="#1a1a1a" letter-spacing="-0.4" stroke="#1a1a1a" stroke-width="0.25">0.0012</text>
<text transform="translate(408.94,212.00) scale(0.9623,1)" text-anchor="start" font-size="11.6" font-style="normal" font-weight="bold" fill="#1a1a1a" letter-spacing="-0.2" stroke="#1a1a1a" stroke-width="0.25">prepartum primiparous</text>
<text transform="translate(408.94,224.30) scale(0.9623,1)" text-anchor="start" font-size="11.6" font-style="normal" font-weight="bold" fill="#1a1a1a" letter-spacing="-0.2" stroke="#1a1a1a" stroke-width="0.25">postpartum primiparous</text>
<text transform="translate(408.94,235.80) scale(0.9623,1)" text-anchor="start" font-size="11.6" font-style="normal" font-weight="bold" fill="#1a1a1a" letter-spacing="-0.2" stroke="#1a1a1a" stroke-width="0.25">prepartum multiparous</text>
<text transform="translate(408.94,247.30) scale(0.9623,1)" text-anchor="start" font-size="11.6" font-style="normal" font-weight="bold" fill="#1a1a1a" letter-spacing="-0.2" stroke="#1a1a1a" stroke-width="0.25">postpartum multiparous</text>
<text transform="translate(514.72,49.00) scale(0.8843,1)" text-anchor="start" font-size="14" font-style="italic" font-weight="bold" fill="#1a1a1a" letter-spacing="-0.6" stroke="#1a1a1a" stroke-width="0.3">Unclassified-Amoebozoa</text>
<text transform="translate(528.60,109.90) scale(0.8993,1)" text-anchor="start" font-size="14" font-style="italic" font-weight="bold" fill="#1a1a1a" letter-spacing="-0.6" stroke="#1a1a1a" stroke-width="0.3">Unclassified-Chordata</text>
<text transform="translate(511.21,170.80) scale(0.8897,1)" text-anchor="start" font-size="14" font-style="italic" font-weight="bold" fill="#1a1a1a" letter-spacing="-0.6" stroke="#1a1a1a" stroke-width="0.3">Unclassified-Ascomycota</text>
<text transform="translate(589.40,230.20) scale(0.8662,1)" text-anchor="start" font-size="14" font-style="italic" font-weight="bold" fill="#1a1a1a" letter-spacing="-0.6" stroke="#1a1a1a" stroke-width="0.3">Entamoeba</text>
<text transform="translate(656.70,270.50) rotate(-45) scale(0.8500,1) translate(-32.00,0)" text-anchor="start" font-size="13.5" font-style="normal" font-weight="bold" fill="#1a1a1a" letter-spacing="-0.4" stroke="#1a1a1a" stroke-width="0.25">0.000</text>
<text transform="translate(717.60,270.50) rotate(-45) scale(0.8500,1) translate(-32.00,0)" text-anchor="start" font-size="13.5" font-style="normal" font-weight="bold" fill="#1a1a1a" letter-spacing="-0.4" stroke="#1a1a1a" stroke-width="0.25">0.001</text>
<text transform="translate(778.50,270.50) rotate(-45) scale(0.8500,1) translate(-32.00,0)" text-anchor="start" font-size="13.5" font-style="normal" font-weight="bold" fill="#1a1a1a" letter-spacing="-0.4" stroke="#1a1a1a" stroke-width="0.25">0.002</text>
<text transform="translate(839.50,270.50) rotate(-45) scale(0.8500,1) translate(-32.00,0)" text-anchor="start" font-size="13.5" font-style="normal" font-weight="bold" fill="#1a1a1a" letter-spacing="-0.4" stroke="#1a1a1a" stroke-width="0.25">0.003</text>
<text transform="translate(900.60,270.50) rotate(-45) scale(0.8500,1) translate(-32.00,0)" text-anchor="start" font-size="13.5" font-style="normal" font-weight="bold" fill="#1a1a1a" letter-spacing="-0.4" stroke="#1a1a1a" stroke-width="0.25">0.004</text>
<text transform="translate(961.60,270.50) rotate(-45) scale(0.8500,1) translate(-32.00,0)" text-anchor="start" font-size="13.5" font-style="normal" font-weight="bold" fill="#1a1a1a" letter-spacing="-0.4" stroke="#1a1a1a" stroke-width="0.25">0.005</text>
<text transform="translate(852.04,217.80) scale(0.9623,1)" text-anchor="start" font-size="11.6" font-style="normal" font-weight="bold" fill="#1a1a1a" letter-spacing="-0.2" stroke="#1a1a1a" stroke-width="0.25">prepartum primiparous</text>
<text transform="translate(852.04,229.90) scale(0.9623,1)" text-anchor="start" font-size="11.6" font-style="normal" font-weight="bold" fill="#1a1a1a" letter-spacing="-0.2" stroke="#1a1a1a" stroke-width="0.25">postpartum primiparous</text>
<text transform="translate(852.04,241.30) scale(0.9623,1)" text-anchor="start" font-size="11.6" font-style="normal" font-weight="bold" fill="#1a1a1a" letter-spacing="-0.2" stroke="#1a1a1a" stroke-width="0.25">prepartum multiparous</text>
<text transform="translate(852.04,252.80) scale(0.9623,1)" text-anchor="start" font-size="11.6" font-style="normal" font-weight="bold" fill="#1a1a1a" letter-spacing="-0.2" stroke="#1a1a1a" stroke-width="0.25">postpartum multiparous</text>
<text transform="translate(93.55,339.40) scale(0.9535,1)" text-anchor="start" font-size="13.2" font-style="italic" font-weight="bold" fill="#1a1a1a" letter-spacing="-0.6" stroke="#1a1a1a" stroke-width="0.3">Unclassified-Alveolata</text>
<text transform="translate(113.20,373.90) scale(0.9481,1)" text-anchor="start" font-size="13.2" font-style="italic" font-weight="bold" fill="#1a1a1a" letter-spacing="-0.6" stroke="#1a1a1a" stroke-width="0.3">Neocallimastigales</text>
<text transform="translate(58.57,407.40) scale(0.9347,1)" text-anchor="start" font-size="13.2" font-style="italic" font-weight="bold" fill="#1a1a1a" letter-spacing="-0.6" stroke="#1a1a1a" stroke-width="0.3">Unclassif-Intramacronucleata</text>
<text transform="translate(124.40,442.60) scale(0.9276,1)" text-anchor="start" font-size="13.2" font-style="italic" font-weight="bold" fill="#1a1a1a" letter-spacing="-0.6" stroke="#1a1a1a" stroke-width="0.3">Agaricomycotina</text>
<text transform="translate(87.85,476.60) scale(0.9511,1)" text-anchor="start" font-size="13.2" font-style="italic" font-weight="bold" fill="#1a1a1a" letter-spacing="-0.6" stroke="#1a1a1a" stroke-width="0.3">Unclassified-Ciliophora</text>
<text transform="translate(113.56,511.10) scale(0.9421,1)" text-anchor="start" font-size="13.2" font-style="italic" font-weight="bold" fill="#1a1a1a" letter-spacing="-0.6" stroke="#1a1a1a" stroke-width="0.3">Unclassified-Fungi</text>
<text transform="translate(126.70,544.90) scale(0.9134,1)" text-anchor="start" font-size="13.2" font-style="italic" font-weight="bold" fill="#1a1a1a" letter-spacing="-0.6" stroke="#1a1a1a" stroke-width="0.3">Saccharomyceta</text>
<text transform="translate(222.40,572.00) rotate(-45) scale(0.9000,1) translate(-32.00,0)" text-anchor="start" font-size="13.5" font-style="normal" font-weight="bold" fill="#1a1a1a" letter-spacing="-0.4" stroke="#1a1a1a" stroke-width="0.25">0.000</text>
<text transform="translate(245.60,572.00) rotate(-45) scale(0.9000,1) translate(-32.00,0)" text-anchor="start" font-size="13.5" font-style="normal" font-weight="bold" fill="#1a1a1a" letter-spacing="-0.4" stroke="#1a1a1a" stroke-width="0.25">0.003</text>
<text transform="translate(269.40,572.00) rotate(-45) scale(0.9000,1) translate(-32.00,0)" text-anchor="start" font-size="13.5" font-style="normal" font-weight="bold" fill="#1a1a1a" letter-spacing="-0.4" stroke="#1a1a1a" stroke-width="0.25">0.006</text>
<text transform="translate(293.60,572.00) rotate(-45) scale(0.9000,1) translate(-32.00,0)" text-anchor="start" font-size="13.5" font-style="normal" font-weight="bold" fill="#1a1a1a" letter-spacing="-0.4" stroke="#1a1a1a" stroke-width="0.25">0.009</text>
<text transform="translate(317.70,572.00) rotate(-45) scale(0.9000,1) translate(-32.00,0)" text-anchor="start" font-size="13.5" font-style="normal" font-weight="bold" fill="#1a1a1a" letter-spacing="-0.4" stroke="#1a1a1a" stroke-width="0.25">0.012</text>
<text transform="translate(332.00,572.00) rotate(-45) scale(0.9000,1) translate(-25.00,0)" text-anchor="start" font-size="13.5" font-style="normal" font-weight="bold" fill="#1a1a1a" letter-spacing="-0.4" stroke="#1a1a1a" stroke-width="0.25">0.02</text>
<text transform="translate(357.60,572.00) rotate(-45) scale(0.9000,1) translate(-25.00,0)" text-anchor="start" font-size="13.5" font-style="normal" font-weight="bold" fill="#1a1a1a" letter-spacing="-0.4" stroke="#1a1a1a" stroke-width="0.25">0.04</text>
<text transform="translate(383.40,572.00) rotate(-45) scale(0.9000,1) translate(-25.00,0)" text-anchor="start" font-size="13.5" font-style="normal" font-weight="bold" fill="#1a1a1a" letter-spacing="-0.4" stroke="#1a1a1a" stroke-width="0.25">0.06</text>
<text transform="translate(408.60,572.00) rotate(-45) scale(0.9000,1) translate(-25.00,0)" text-anchor="start" font-size="13.5" font-style="normal" font-weight="bold" fill="#1a1a1a" letter-spacing="-0.4" stroke="#1a1a1a" stroke-width="0.25">0.08</text>
<text transform="translate(429.20,572.00) rotate(-45) scale(0.9000,1) translate(-25.00,0)" text-anchor="start" font-size="13.5" font-style="normal" font-weight="bold" fill="#1a1a1a" letter-spacing="-0.4" stroke="#1a1a1a" stroke-width="0.25">0.10</text>
<text transform="translate(461.60,572.00) rotate(-45) scale(0.9000,1) translate(-25.00,0)" text-anchor="start" font-size="13.5" font-style="normal" font-weight="bold" fill="#1a1a1a" letter-spacing="-0.4" stroke="#1a1a1a" stroke-width="0.25">0.12</text>
<text transform="translate(493.60,572.00) rotate(-45) scale(0.9000,1) translate(-25.00,0)" text-anchor="start" font-size="13.5" font-style="normal" font-weight="bold" fill="#1a1a1a" letter-spacing="-0.4" stroke="#1a1a1a" stroke-width="0.25">0.14</text>
<text transform="translate(524.30,572.00) rotate(-45) scale(0.9000,1) translate(-25.00,0)" text-anchor="start" font-size="13.5" font-style="normal" font-weight="bold" fill="#1a1a1a" letter-spacing="-0.4" stroke="#1a1a1a" stroke-width="0.25">0.16</text>
<text transform="translate(419.74,514.10) scale(0.9598,1)" text-anchor="start" font-size="11.6" font-style="normal" font-weight="bold" fill="#1a1a1a" letter-spacing="-0.2" stroke="#1a1a1a" stroke-width="0.25">prepartum primiparous</text>
<text transform="translate(419.74,525.40) scale(0.9598,1)" text-anchor="start" font-size="11.6" font-style="normal" font-weight="bold" fill="#1a1a1a" letter-spacing="-0.2" stroke="#1a1a1a" stroke-width="0.25">postpartum primiparous</text>
<text transform="translate(419.74,536.90) scale(0.9598,1)" text-anchor="start" font-size="11.6" font-style="normal" font-weight="bold" fill="#1a1a1a" letter-spacing="-0.2" stroke="#1a1a1a" stroke-width="0.25">prepartum multiparous</text>
<text transform="translate(419.74,548.30) scale(0.9598,1)" text-anchor="start" font-size="11.6" font-style="normal" font-weight="bold" fill="#1a1a1a" letter-spacing="-0.2" stroke="#1a1a1a" stroke-width="0.25">postpartum multiparous</text>
<text transform="translate(586.70,383.30) scale(0.8688,1)" text-anchor="start" font-size="14" font-style="italic" font-weight="bold" fill="#1a1a1a" letter-spacing="-0.6" stroke="#1a1a1a" stroke-width="0.3">Litostomatea</text>
<text transform="translate(541.42,502.30) scale(0.8762,1)" text-anchor="start" font-size="14" font-style="italic" font-weight="bold" fill="#1a1a1a" letter-spacing="-0.6" stroke="#1a1a1a" stroke-width="0.3">Unclassified-Metazoa</text>
<text transform="translate(662.80,572.30) rotate(-45) scale(0.8400,1) translate(-39.00,0)" text-anchor="start" font-size="13.5" font-style="normal" font-weight="bold" fill="#1a1a1a" letter-spacing="-0.4" stroke="#1a1a1a" stroke-width="0.25">0.0000</text>
<text transform="translate(680.30,572.30) rotate(-45) scale(0.8400,1) translate(-39.00,0)" text-anchor="start" font-size="13.5" font-style="normal" font-weight="bold" fill="#1a1a1a" letter-spacing="-0.4" stroke="#1a1a1a" stroke-width="0.25">0.0005</text>
<text transform="translate(699.40,572.30) rotate(-45) scale(0.8400,1) translate(-39.00,0)" text-anchor="start" font-size="13.5" font-style="normal" font-weight="bold" fill="#1a1a1a" letter-spacing="-0.4" stroke="#1a1a1a" stroke-width="0.25">0.0010</text>
<text transform="translate(718.20,572.30) rotate(-45) scale(0.8400,1) translate(-39.00,0)" text-anchor="start" font-size="13.5" font-style="normal" font-weight="bold" fill="#1a1a1a" letter-spacing="-0.4" stroke="#1a1a1a" stroke-width="0.25">0.0015</text>
<text transform="translate(736.50,572.30) rotate(-45) scale(0.8400,1) translate(-39.00,0)" text-anchor="start" font-size="13.5" font-style="normal" font-weight="bold" fill="#1a1a1a" letter-spacing="-0.4" stroke="#1a1a1a" stroke-width="0.25">0.0020</text>
<text transform="translate(755.70,572.30) rotate(-45) scale(0.8400,1) translate(-39.00,0)" text-anchor="start" font-size="13.5" font-style="normal" font-weight="bold" fill="#1a1a1a" letter-spacing="-0.4" stroke="#1a1a1a" stroke-width="0.25">0.0025</text>
<text transform="translate(781.10,572.30) rotate(-45) scale(0.8400,1) translate(-25.00,0)" text-anchor="start" font-size="13.5" font-style="normal" font-weight="bold" fill="#1a1a1a" letter-spacing="-0.4" stroke="#1a1a1a" stroke-width="0.25">0.03</text>
<text transform="translate(801.00,572.30) rotate(-45) scale(0.8400,1) translate(-25.00,0)" text-anchor="start" font-size="13.5" font-style="normal" font-weight="bold" fill="#1a1a1a" letter-spacing="-0.4" stroke="#1a1a1a" stroke-width="0.25">0.06</text>
<text transform="translate(820.90,572.30) rotate(-45) scale(0.8400,1) translate(-25.00,0)" text-anchor="start" font-size="13.5" font-style="normal" font-weight="bold" fill="#1a1a1a" letter-spacing="-0.4" stroke="#1a1a1a" stroke-width="0.25">0.09</text>
<text transform="translate(840.90,572.30) rotate(-45) scale(0.8400,1) translate(-25.00,0)" text-anchor="start" font-size="13.5" font-style="normal" font-weight="bold" fill="#1a1a1a" letter-spacing="-0.4" stroke="#1a1a1a" stroke-width="0.25">0.12</text>
<text transform="translate(860.80,572.30) rotate(-45) scale(0.8400,1) translate(-25.00,0)" text-anchor="start" font-size="13.5" font-style="normal" font-weight="bold" fill="#1a1a1a" letter-spacing="-0.4" stroke="#1a1a1a" stroke-width="0.25">0.15</text>
<text transform="translate(873.70,572.30) rotate(-45) scale(0.8400,1) translate(-18.00,0)" text-anchor="start" font-size="13.5" font-style="normal" font-weight="bold" fill="#1a1a1a" letter-spacing="-0.4" stroke="#1a1a1a" stroke-width="0.25">0.7</text>
<text transform="translate(902.30,572.30) rotate(-45) scale(0.8400,1) translate(-18.00,0)" text-anchor="start" font-size="13.5" font-style="normal" font-weight="bold" fill="#1a1a1a" letter-spacing="-0.4" stroke="#1a1a1a" stroke-width="0.25">0.8</text>
<text transform="translate(931.90,572.30) rotate(-45) scale(0.8400,1) translate(-18.00,0)" text-anchor="start" font-size="13.5" font-style="normal" font-weight="bold" fill="#1a1a1a" letter-spacing="-0.4" stroke="#1a1a1a" stroke-width="0.25">0.9</text>
<text transform="translate(961.10,572.30) rotate(-45) scale(0.8400,1) translate(-18.00,0)" text-anchor="start" font-size="13.5" font-style="normal" font-weight="bold" fill="#1a1a1a" letter-spacing="-0.4" stroke="#1a1a1a" stroke-width="0.25">1.0</text>
<text transform="translate(873.05,516.20) scale(0.9549,1)" text-anchor="start" font-size="11.6" font-style="normal" font-weight="bold" fill="#1a1a1a" letter-spacing="-0.2" stroke="#1a1a1a" stroke-width="0.25">prepartum primiparous</text>
<text transform="translate(873.05,527.50) scale(0.9549,1)" text-anchor="start" font-size="11.6" font-style="normal" font-weight="bold" fill="#1a1a1a" letter-spacing="-0.2" stroke="#1a1a1a" stroke-width="0.25">postpartum primiparous</text>
<text transform="translate(873.05,538.60) scale(0.9549,1)" text-anchor="start" font-size="11.6" font-style="normal" font-weight="bold" fill="#1a1a1a" letter-spacing="-0.2" stroke="#1a1a1a" stroke-width="0.25">prepartum multiparous</text>
<text transform="translate(873.05,550.10) scale(0.9549,1)" text-anchor="start" font-size="11.6" font-style="normal" font-weight="bold" fill="#1a1a1a" letter-spacing="-0.2" stroke="#1a1a1a" stroke-width="0.25">postpartum multiparous</text>
<rect x="422.2" y="607.2" width="101" height="1.8" fill="#fcf7b4"/>
<rect x="597.7" y="607.8" width="1.3" height="1.2" fill="#999"/>
<rect x="5.7" y="607.7" width="14.5" height="1.3" fill="#2a2a2a"/>
<rect x="25.3" y="607.7" width="6.3" height="1.3" fill="#2a2a2a"/>
<rect x="37.9" y="607.7" width="3.8" height="1.3" fill="#2a2a2a"/>
<rect x="106.1" y="607.7" width="3.2" height="1.3" fill="#2a2a2a"/>
<rect x="127.6" y="607.7" width="7.4" height="1.3" fill="#2a2a2a"/>
<rect x="203.3" y="607.7" width="3.1" height="1.3" fill="#2a2a2a"/>
<rect x="260.6" y="607.7" width="3.2" height="1.3" fill="#2a2a2a"/>
<rect x="280.8" y="607.7" width="3.2" height="1.3" fill="#2a2a2a"/>
<rect x="364.9" y="607.7" width="3.1" height="1.3" fill="#2a2a2a"/>
<rect x="403.9" y="607.7" width="3.8" height="1.3" fill="#2a2a2a"/>
<rect x="606" y="607.7" width="5" height="1.3" fill="#2a2a2a"/>
<rect x="705" y="607.7" width="3" height="1.3" fill="#2a2a2a"/>
<rect x="725.2" y="607.7" width="3.1" height="1.3" fill="#2a2a2a"/>
<rect x="769.4" y="607.7" width="3.1" height="1.3" fill="#2a2a2a"/>
<rect x="845.7" y="607.7" width="3.2" height="1.3" fill="#2a2a2a"/>
<rect x="928.7" y="607.7" width="3.1" height="1.3" fill="#2a2a2a"/>
<rect x="948.9" y="607.7" width="3.2" height="1.3" fill="#2a2a2a"/>
<rect x="1018.4" y="607.7" width="3.1" height="1.3" fill="#2a2a2a"/>
</svg>
</body></html>
